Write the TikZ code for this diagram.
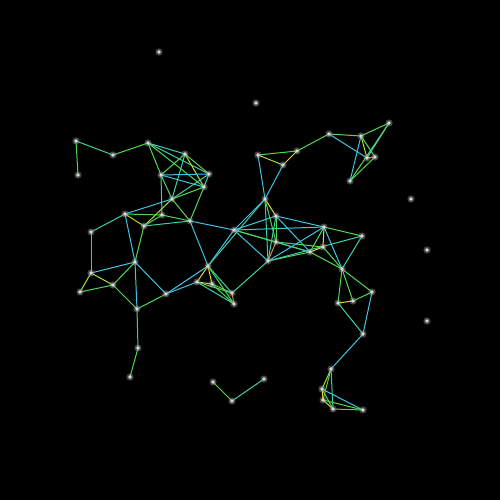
\documentclass[tikz,border=0pt]{standalone}
\usetikzlibrary{calc}
\definecolor{cy}{RGB}{64,196,226}
\definecolor{tl}{RGB}{60,208,170}
\definecolor{gr}{RGB}{80,216,80}
\definecolor{yg}{RGB}{170,224,60}
\definecolor{ye}{RGB}{226,216,50}
\definecolor{orr}{RGB}{230,140,60}
\begin{document}
\begin{tikzpicture}[x=1pt,y=-1pt,
  v/.style={circle,fill=white!70!gray,inner sep=0pt,minimum size=3.6pt},
  halo/.style={fill=gray!80,fill opacity=0.45},
  e/.style={line width=1pt}]
\fill[black] (0,0) rectangle (500,500);
\useasboundingbox (0,0) rectangle (500,500);
% nodes
\foreach \n/\x/\y in {Z1/159/52,Z2/256/103,Z3/411/199,Z4/427/250,Z5/427/321,
 A1/76/141,A2/78/175,A3/113/155,A4/148/143,
 B1/185/154,B2/161/175,B3/209/174,B4/204/187,B5/172/199,
 C1/125/214,C2/162/215,C3/144/226,C4/190/221,
 D1/91/232,D2/135/262,D3/91/273,D4/113/285,D5/80/292,D6/137/309,D7/166/294,D8/138/348,D9/130/377,
 E1/208/266,E2/197/282,E5/212/284,E3/232/293,E4/234/304,
 F1/234/230,
 G1/213/382,G2/232/401,G3/264/379,
 H1/258/155,H2/297/151,H3/283/165,H4/329/134,H5/361/136,H6/389/123,H7/367/158,H8/375/157,H9/350/181,
 I1/265/199,I2/276/216,I3/276/242,I4/268/261,I5/310/252,
 J1/324/227,J3/323/247,K1/362/236,K2/342/269,
 L1/372/292,L2/338/303,L3/353/301,L4/363/334,
 M1/331/369,M2/322/389,M3/323/400,M4/333/409,M5/363/410}
 {\coordinate (\n) at (\x,\y);}
% edges
\foreach \a/\b/\c in {A1/A2/gr,A1/A3/tl,A3/A4/gr,A4/B1/tl,A4/B2/gr,A4/B3/tl,A4/B4/gr,
 B1/B2/gr,B1/B3/gr,B1/B4/yg,B1/B5/tl,B2/B3/cy,B2/B4/cy,B3/B4/tl,B3/B5/tl,B4/B5/gr,B2/B5/gr,
 B2/C2/tl,B5/C4/gr,B4/C4/gr,B5/C1/cy,B5/C3/yg,C1/C2/gr,C1/C3/yg,C3/C2/gr,C3/C4/tl,C2/C4/gr,
 C4/F1/cy,C4/E1/cy,C1/D1/tl,C1/D2/cy,C3/D2/gr,D1/D3/tl,D3/D2/cy,D3/D4/yg,D3/D5/yg,D5/D4/gr,
 D4/D2/gr,D4/D6/gr,D2/D6/cy,D2/D7/cy,D6/D7/gr,D6/D8/tl,D8/D9/gr,D7/E2/cy,D7/E1/cy,
 E1/F1/cy,E1/I1/tl,E1/E2/ye,E1/E5/ye,E2/E5/ye,E2/E3/gr,E5/E3/gr,E1/E3/tl,E1/E4/gr,E2/E4/tl,
 E5/E4/gr,E3/E4/orr,E3/I4/tl,F1/I1/cy,F1/I2/cy,F1/I3/tl,F1/I4/cy,F1/I5/gr,F1/J1/cy,
 H1/H2/gr,H1/H3/yg,H2/H3/ye,H1/I1/cy,H3/I1/cy,H2/H4/gr,H4/H5/gr,H4/H7/cy,H5/H6/gr,H5/H7/yg,
 H5/H8/gr,H5/H9/cy,H6/H7/cy,H6/H9/gr,H7/H8/orr,H8/H9/gr,
 I1/I2/ye,I1/I3/gr,I1/I4/tl,I2/I3/gr,I2/I4/tl,I2/J1/cy,I2/I5/cy,I3/I4/orr,I3/J3/gr,I4/I5/gr,
 I3/I5/tl,I4/K1/tl,I4/J1/cy,J1/J3/ye,J1/I5/gr,J1/K1/gr,J1/K2/cy,I5/J3/ye,J3/K2/gr,I5/K2/gr,
 K2/K1/tl,K2/L1/gr,K2/L2/gr,K2/L3/gr,L1/L3/gr,L2/L3/ye,L1/L4/cy,L2/L4/tl,L4/M1/cy,
 M1/M2/yg,M1/M3/gr,M1/M4/tl,M2/M3/ye,M2/M5/cy,M3/M4/ye,M3/M5/gr,M4/M5/gr,M2/M4/gr,
 G1/G2/gr,G2/G3/tl}
 {\draw[e,draw=\c] (\a) -- (\b);}
\foreach \n in {Z1,Z2,Z3,Z4,Z5,A1,A2,A3,A4,B1,B2,B3,B4,B5,C1,C2,C3,C4,D1,D2,D3,D4,D5,D6,D7,D8,D9,
 E1,E2,E5,E3,E4,F1,G1,G2,G3,H1,H2,H3,H4,H5,H6,H7,H8,H9,I1,I2,I3,I4,I5,J1,J3,K1,K2,L1,L2,L3,L4,
 M1,M2,M3,M4,M5}
 {\fill[halo] (\n) circle (3.6pt);
  \node[v] (n\n) at (\n) {};}
\end{tikzpicture}
\end{document}
